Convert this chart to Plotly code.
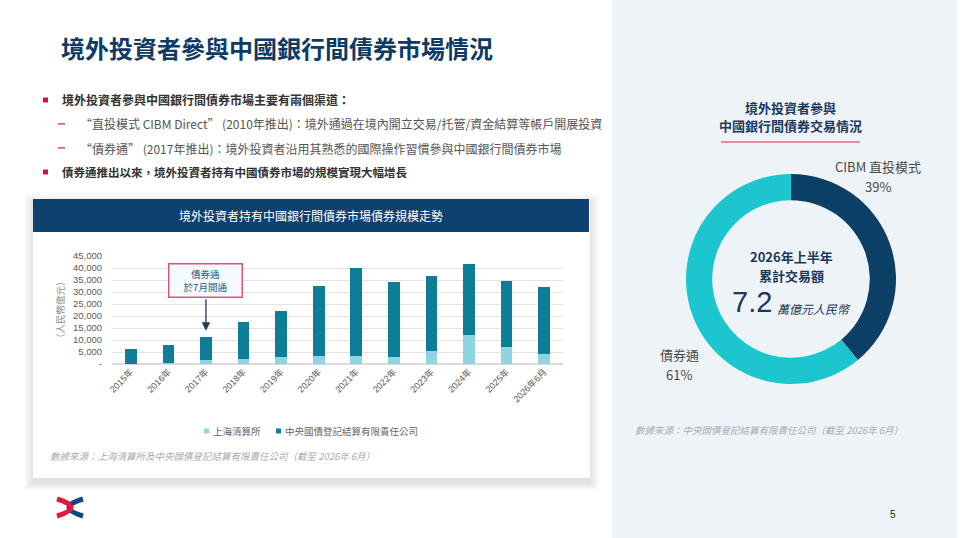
import plotly.graph_objects as go

W, H = 960, 538


def X(p):
    return p / W


def Y(p):
    return 1 - p / H


# ---------------- data ----------------
categories = ["2015年", "2016年", "2017年", "2018年", "2019年", "2020年",
              "2021年", "2022年", "2023年", "2024年", "2025年", "2026年6月"]
shanghai = [200, 300, 1700, 2200, 2900, 3400, 3200, 2800, 5300, 11900, 7200, 4300]
ccdc = [6100, 7600, 9700, 15100, 19000, 29200, 36900, 31200, 31500, 29900, 27500, 27600]
series_names = ["上海清算所", "中央國債登記結算有限責任公司"]
ytick_vals = [0, 5000, 10000, 15000, 20000, 25000, 30000, 35000, 40000, 45000]
ytick_text = ["-", "5,000", "10,000", "15,000", "20,000", "25,000",
              "30,000", "35,000", "40,000", "45,000"]
pie_labels = ["CIBM 直投模式", "債券通"]
pie_values = [39, 61]
total_trade = "7.2"

# ---------------- styles ----------------
LIGHT = "#8FD4E3"
DARK = "#0E7D98"
NAVY = "#0D3B66"
PIE_DARK = "#0B3F66"
PIE_CYAN = "#1CC6CF"
RED = "#D9153F"
FONT = "Liberation Sans, Noto Sans CJK TC, sans-serif"
CJK = "Noto Sans CJK TC, Liberation Sans, sans-serif"

fig = go.Figure()
fig.add_trace(go.Bar(x=categories, y=shanghai, name=series_names[0],
                     marker=dict(color=LIGHT, line=dict(width=0)), width=0.31,
                     showlegend=False, hoverinfo="skip"))
fig.add_trace(go.Bar(x=categories, y=ccdc, name=series_names[1],
                     marker=dict(color=DARK, line=dict(width=0)), width=0.31,
                     showlegend=False, hoverinfo="skip"))
fig.add_trace(go.Pie(labels=pie_labels, values=pie_values, hole=0.75, sort=False,
                     direction="clockwise", rotation=0, textinfo="none",
                     marker=dict(colors=[PIE_DARK, PIE_CYAN], line=dict(width=0)),
                     domain=dict(x=[X(686), X(896)], y=[Y(384), Y(174)]),
                     showlegend=False, hoverinfo="skip"))

shapes = []


def rect(x0, y0, x1, y1, fill, line_color=None, lw=0, layer="below", opacity=1):
    shapes.append(dict(type="rect", xref="paper", yref="paper",
                       x0=X(x0), x1=X(x1), y0=Y(y1), y1=Y(y0),
                       fillcolor=fill, opacity=opacity, layer=layer,
                       line=dict(color=line_color or fill, width=lw)))


# right panel
rect(612, 0, 957, 538, "#EEF3F8")
# card shadow
for i in range(10):
    rect(33 - i, 199 - i + 4, 590 + i, 478 + i + 4, "rgba(0,0,0,0.012)")
rect(33, 199, 590, 478, "#FFFFFF")
# header bar
rect(33, 199, 589, 232, "#0C4170")
# bullets
rect(43, 97.5, 48, 102.5, RED)
rect(43, 169.5, 48, 174.5, RED)
# sub-bullet dashes
rect(58, 123.3, 65, 124.5, RED)
rect(58, 147.3, 65, 148.5, RED)
# red rule on right
shapes.append(dict(type="line", xref="paper", yref="paper", x0=X(721), x1=X(860),
                   y0=Y(142), y1=Y(142), line=dict(color="#E46A80", width=1.5)))
# legend squares
rect(204, 428.5, 209, 433.5, LIGHT)
rect(276, 428.5, 281, 433.5, DARK)


def P(x, y):
    return f"{X(x):.5f},{Y(y):.5f}"


# logo
shapes.append(dict(type="path", xref="paper", yref="paper",
                   path=f"M {P(83,499)} Q {P(55,507.5)} {P(83,516)}",
                   line=dict(color="#0D4A80", width=5)))
shapes.append(dict(type="path", xref="paper", yref="paper",
                   path=f"M {P(57,499)} Q {P(85,507.5)} {P(57,516)}",
                   line=dict(color="#E4173F", width=5)))

ann = []


def text(x, y, s, size, color, xanchor="left", font=CJK, **kw):
    ann.append(dict(x=X(x), y=Y(y), xref="paper", yref="paper", text=s,
                    showarrow=False, xanchor=xanchor, yanchor="middle",
                    font=dict(size=size, color=color, family=font), **kw))


text(59, 47, "<b>境外投資者參與中國銀行間債券市場情況</b>", 24, NAVY)
text(60, 100, "<b>境外投資者參與中國銀行間債券市場主要有兩個渠道：</b>", 12, "#333333")
text(78, 124, "“直投模式 CIBM Direct” (2010年推出)：境外通過在境內開立交易/托管/資金結算等帳戶開展投資",
     12, "#555555")
text(78, 148, "“債券通” (2017年推出)：境外投資者沿用其熟悉的國際操作習慣參與中國銀行間債券市場",
     12, "#555555")
text(60, 172, "<b>債券通推出以來，境外投資者持有中國債券市場的規模實現大幅增長</b>", 11.5, "#333333")

text(311, 215, "境外投資者持有中國銀行間債券市場債券規模走勢", 12, "#FFFFFF", xanchor="center")
text(60, 310, "（人民幣億元）", 9.5, "#8A8A8A", xanchor="center", textangle=-90)

# custom legend
text(211, 431, series_names[0], 9.5, "#666666")
text(283, 431, series_names[1], 9.5, "#666666")
text(48, 456, "<i>數據來源：上海清算所及中央國債登記結算有限責任公司（截至 2026年 6月）</i>",
     9.5, "#AAAAAA")

# callout box and arrow in data coords
ann.append(dict(x="2017年", y=34700, xref="x", yref="y", text="債券通<br>於7月開通",
                showarrow=False, width=72, height=32, bgcolor="#F4F9FB",
                bordercolor="#D9557F", borderwidth=1.5, borderpad=0,
                font=dict(size=9.5, color="#2A5A85", family=CJK)))
ann.append(dict(x="2017年", y=13900, xref="x", yref="y", text="", showarrow=True,
                ax=0, ay=-33, arrowhead=2, arrowsize=1.3, arrowwidth=1.3,
                arrowcolor="#1F3A5A"))

# right panel texts
text(790, 107, "<b>境外投資者參與</b>", 13, "#1B3A5E", xanchor="center")
text(790, 125, "<b>中國銀行間債券交易情況</b>", 13, "#1B3A5E", xanchor="center")
text(878, 166, pie_labels[0], 13, "#4A4A4A", xanchor="center")
text(878, 186, f"{pie_values[0]}%", 13, "#4A4A4A", xanchor="center")
text(679, 354, pie_labels[1], 13, "#4A4A4A", xanchor="center")
text(679, 374, f"{pie_values[1]}%", 13, "#4A4A4A", xanchor="center")
text(791, 256, "<b>2026年上半年</b>", 13, "#1A3A5C", xanchor="center")
text(791, 275, "<b>累計交易額</b>", 13, "#1A3A5C", xanchor="center")
text(774, 302, total_trade, 29, "#1A3A5C", xanchor="right", font=FONT)
text(775, 308, "<i>萬億元人民幣</i>", 12, "#1A3A5C")
text(633, 430, "<i>數據來源：中央國債登記結算有限責任公司（截至 2026年 6月）</i>",
     9.5, "#A5ADB6")
text(893, 514, "5", 10, "#222222", xanchor="center", font=FONT)

fig.update_layout(
    width=W, height=H, margin=dict(l=0, r=0, t=0, b=0),
    paper_bgcolor="#FFFFFF", plot_bgcolor="rgba(0,0,0,0)",
    barmode="stack", shapes=shapes, annotations=ann,
    font=dict(family=FONT),
    xaxis=dict(domain=[X(112), X(563)], tickangle=-45, showgrid=False,
               ticks="", showline=False, zeroline=False, automargin=False,
               tickfont=dict(size=9, color="#595959", family=FONT)),
    yaxis=dict(domain=[Y(364), Y(256)], range=[0, 45000], tickvals=ytick_vals,
               ticktext=ytick_text, showgrid=True, gridcolor="#E3E3E3", gridwidth=1,
               zeroline=True, zerolinecolor="#D9D9D9", ticks="", showline=False,
               ticklabelstandoff=9, automargin=False,
               tickfont=dict(size=9.5, color="#595959", family=FONT)),
)

fig.write_html("out.html",
               config={"displayModeBar": False},
               post_script="document.body.style.margin='0px';"
                           "document.body.style.overflow='hidden';")
